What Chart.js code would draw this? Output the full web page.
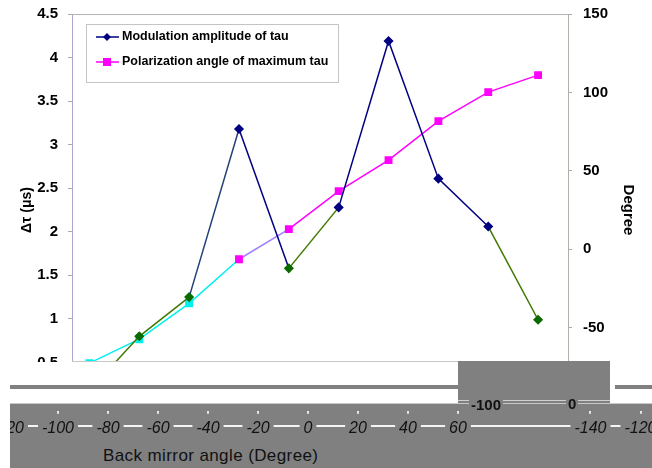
<!DOCTYPE html>
<html>
<head>
<meta charset="utf-8">
<script src="https://cdn.jsdelivr.net/npm/chart.js@4.4.1/dist/chart.umd.min.js"></script>
<style>
  body { margin: 0; background: #fff; width: 652px; height: 468px; overflow: hidden; position: relative;
         font-family: "Liberation Sans", Arial, sans-serif; }
  #mainWrap { position: absolute; left: 0; top: -6px; width: 652px; height: 432px; }
  .patch { position: absolute; }
  #stripWrap { position: absolute; left: 10px; top: 403px; width: 642px; height: 65px; background: #808080;
               overflow: hidden; border-top: 1px solid #c8c8c8; box-sizing: border-box; }
  #stripLine { position: absolute; left: 0; top: 21px; width: 642px; height: 2px; background: #f4f4f4; }
  #strip { position: absolute; left: -40px; top: -41px; }
  #xTitle { position: absolute; left: 103px; top: 446px; font-size: 17px; letter-spacing: 0.4px; color: #111; white-space: nowrap; }
  .blockLbl { position: absolute; z-index: 5; font-weight: bold; font-size: 15px; color: #111; line-height: 16px; }
</style>
</head>
<body>
<div id="mainWrap"><canvas id="main" width="652" height="432"></canvas></div>

<div class="patch" style="left:0;top:362px;width:458px;height:41px;background:#fff"></div>
<div class="patch" style="left:72px;top:361px;width:386px;height:1px;background:#c8c8c8"></div>
<div class="patch" style="left:10px;top:385px;width:448px;height:4px;background:#808080"></div>
<div class="patch" style="left:458px;top:361px;width:152px;height:42px;background:#808080"></div>
<div class="patch" style="left:610px;top:362px;width:42px;height:41px;background:#fff"></div>
<div class="patch" style="left:615px;top:385px;width:37px;height:4px;background:#808080"></div>
<div class="patch" style="left:458px;top:400px;width:152px;height:1px;background:#d0d0d0"></div>

<div id="stripWrap">
  <div id="stripLine"></div>
  <canvas id="strip" width="700" height="80"></canvas>
</div>
<span class="blockLbl" style="left:469px;top:397px;background:#808080;padding:0 2px">-100</span>
<span class="blockLbl" style="left:566px;top:396px;background:#808080;padding:0 2px">0</span>
<div id="xTitle">Back mirror angle (Degree)</div>

<script>
// back mirror angle (degree)
const angles = [-90, -70, -50, -30, -10, 10, 30, 50, 70, 90];
// modulation amplitude of tau (us), left axis
const amplitude = [0.18, 0.80, 1.25, 3.18, 1.58, 2.28, 4.19, 2.61, 2.06, 0.99];
// polarization angle of maximum tau (degree), right axis
const polAngle = [-72.7, -57.4, -34.5, -6.4, 12.8, 37.0, 56.8, 81.7, 100.2, 111.0];
// tick labels of the shifted axis strip at the bottom
const stripTicks = [-120, -100, -80, -60, -40, -20, 0, 20, 40, 60];
const stripWrapLabels = ['-140', '-120'];

const navy = '#000080';
const green = '#0a6a00';
const olive = '#3f7800';
const magenta = '#ff00ff';
const cyan = '#00f0f0';

const ampSegColors = [olive, olive, '#24407a', navy, olive, navy, navy, navy, olive];
const ampPointColors = [green, green, green, navy, green, navy, navy, navy, navy, green];
const polSegColors = [cyan, cyan, cyan, '#a080ff', magenta, magenta, magenta, magenta, magenta];
const polPointColors = [cyan, cyan, cyan, magenta, magenta, magenta, magenta, magenta, magenta, magenta];

const boxLegend = {
  id: 'boxLegend',
  afterDraw(chart) {
    const ctx = chart.ctx;
    const a = chart.chartArea;
    ctx.save();
    // top frame line
    ctx.strokeStyle = '#b4b4b4';
    ctx.lineWidth = 1;
    ctx.beginPath();
    ctx.moveTo(a.left, a.top + 0.5);
    ctx.lineTo(a.right, a.top + 0.5);
    ctx.stroke();

    const x = a.left + 14, y = a.top + 10, w = 252, h = 58;
    ctx.fillStyle = '#fff';
    ctx.fillRect(x, y, w, h);
    ctx.strokeStyle = '#c4c4c4';
    ctx.strokeRect(x + 0.5, y + 0.5, w, h);
    chart.data.datasets.forEach((ds, i) => {
      const cy = y + 13 + i * 25;
      ctx.strokeStyle = ds.legendColor;
      ctx.lineWidth = 1.5;
      ctx.beginPath();
      ctx.moveTo(x + 10, cy);
      ctx.lineTo(x + 33, cy);
      ctx.stroke();
      ctx.fillStyle = ds.legendColor;
      ctx.beginPath();
      if (ds.pointStyle === 'rectRot') {
        ctx.moveTo(x + 21, cy - 4);
        ctx.lineTo(x + 25, cy);
        ctx.lineTo(x + 21, cy + 4);
        ctx.lineTo(x + 17, cy);
        ctx.closePath();
      } else {
        ctx.rect(x + 17, cy - 4, 8, 8);
      }
      ctx.fill();
      ctx.fillStyle = '#000';
      ctx.font = 'bold 12.5px "Liberation Sans", Arial, sans-serif';
      ctx.textBaseline = 'middle';
      ctx.fillText(ds.label, x + 36, cy);
    });
    ctx.restore();
  }
};

const tickFont = { family: '"Liberation Sans", Arial, sans-serif', size: 15, weight: 'bold' };

new Chart(document.getElementById('main'), {
  type: 'line',
  data: {
    datasets: [
      {
        label: 'Modulation amplitude of tau',
        data: angles.map((a, i) => ({ x: a, y: amplitude[i] })),
        yAxisID: 'y',
        legendColor: navy,
        borderColor: navy,
        borderWidth: 1.5,
        pointStyle: 'rectRot',
        pointRadius: 4,
        pointBackgroundColor: ampPointColors,
        pointBorderColor: ampPointColors,
        segment: { borderColor: c => ampSegColors[c.p0DataIndex] },
        tension: 0
      },
      {
        label: 'Polarization angle of maximum tau',
        data: angles.map((a, i) => ({ x: a, y: polAngle[i] })),
        yAxisID: 'y1',
        legendColor: magenta,
        borderColor: magenta,
        borderWidth: 1.5,
        pointStyle: 'rect',
        pointRadius: 4.5,
        pointBackgroundColor: polPointColors,
        pointBorderColor: polPointColors,
        segment: { borderColor: c => polSegColors[c.p0DataIndex] },
        tension: 0
      }
    ]
  },
  options: {
    responsive: false,
    animation: false,
    devicePixelRatio: 1,
    layout: { padding: { left: 19, right: 9, top: 3, bottom: 6 } },
    plugins: { legend: { display: false }, tooltip: { enabled: false } },
    scales: {
      x: { type: 'linear', display: false, min: -97, max: 102 },
      y: {
        position: 'left', min: 0, max: 4.5,
        afterFit: s => { s.width = 53; },
        ticks: { stepSize: 0.5, color: '#000', font: tickFont, padding: 10, callback: v => v },
        grid: { drawOnChartArea: false, tickLength: 4, color: '#aaa' },
        border: { color: '#a8a8d0' },
        title: { display: true, text: 'Δτ (μs)', color: '#000', font: { family: tickFont.family, size: 14, weight: 'bold' }, padding: { top: 0, bottom: 1 } }
      },
      y1: {
        position: 'right', min: -100, max: 150,
        afterFit: s => { s.width = 75; },
        ticks: { stepSize: 50, color: '#000', font: tickFont, padding: 11, callback: v => v },
        grid: { drawOnChartArea: false, tickLength: 4, color: '#aaa' },
        border: { color: '#b0b0a8' },
        title: { display: true, text: 'Degree', color: '#000', font: { family: tickFont.family, size: 15, weight: 'bold' }, padding: { top: 6, bottom: 0 } }
      }
    }
  },
  plugins: [boxLegend]
});

// shifted copy of the x axis along the bottom strip
const stripValues = stripTicks.concat([113, 133]);
const stripLabels = stripTicks.map(String).concat(stripWrapLabels);

new Chart(document.getElementById('strip'), {
  type: 'scatter',
  data: { datasets: [] },
  options: {
    responsive: false,
    animation: false,
    devicePixelRatio: 1,
    layout: { padding: 0 },
    plugins: { legend: { display: false }, tooltip: { enabled: false } },
    scales: {
      x: {
        type: 'linear', position: 'bottom', min: -135.2, max: 144.8,
        afterBuildTicks: s => { s.ticks = stripValues.map(v => ({ value: v })); },
        ticks: {
          autoSkip: false, maxRotation: 0, padding: 5,
          color: '#111',
          font: { family: '"Liberation Sans", Arial, sans-serif', size: 16, style: 'italic' },
          showLabelBackdrop: true,
          backdropColor: '#808080',
          backdropPadding: { left: 4, right: 4, top: 0, bottom: 0 },
          callback: (v, i) => stripLabels[i]
        },
        grid: { drawOnChartArea: false, tickLength: 3, color: '#e8e8e8', lineWidth: 2 },
        border: { display: false }
      },
      y: { display: false }
    }
  }
});
</script>
</body>
</html>
